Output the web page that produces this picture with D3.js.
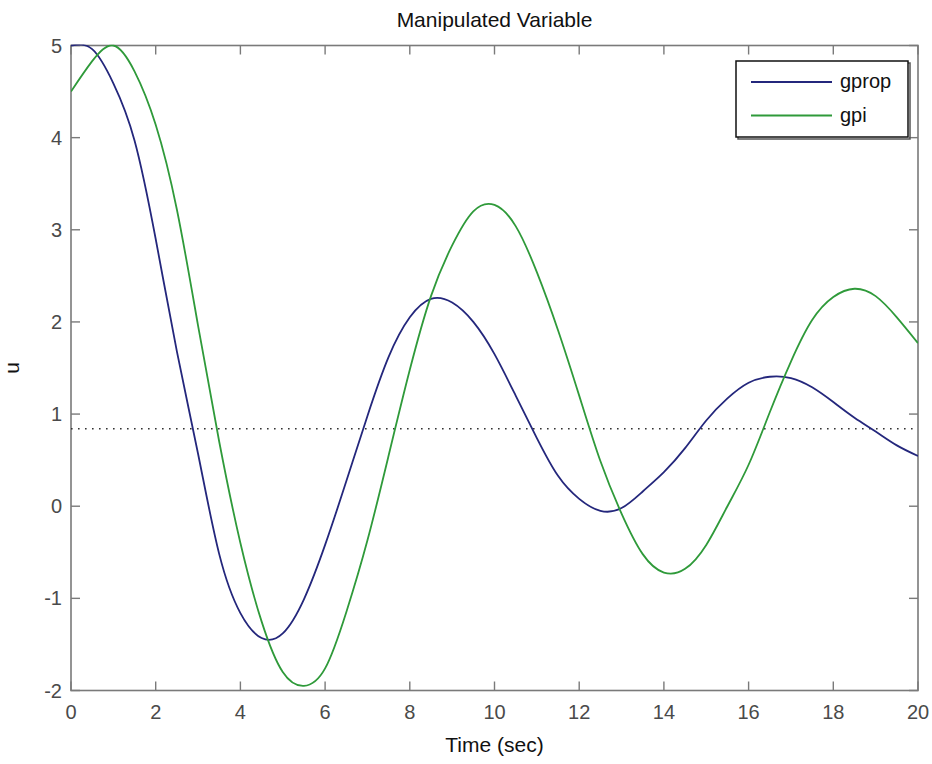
<!DOCTYPE html>
<html>
<head>
<meta charset="utf-8">
<script src="https://cdn.jsdelivr.net/npm/d3@7"></script>
<style>
  html, body { margin: 0; padding: 0; background: #ffffff; }
  svg { display: block; }
  text { font-family: "Liberation Sans", Arial, sans-serif; }
</style>
</head>
<body>
<svg id="chart" width="932" height="764"></svg>
<script>
// Time samples (sec), every 0.5 s
const time = [0, 0.5, 1, 1.5, 2, 2.5, 3, 3.5, 4, 4.5, 5, 5.5, 6, 6.5, 7, 7.5, 8, 8.5, 9, 9.5, 10,
              10.5, 11, 11.5, 12, 12.5, 13, 13.5, 14, 14.5, 15, 15.5, 16, 16.5, 17, 17.5, 18, 18.5, 19, 19.5, 20];

// Controller output u, proportional controller
const gprop = [5.00, 4.96, 4.59, 3.97, 2.90, 1.68, 0.57, -0.52, -1.16, -1.43, -1.38, -1.01, -0.42, 0.27, 0.98, 1.62, 2.05,
               2.25, 2.21, 2.00, 1.65, 1.20, 0.74, 0.33, 0.08, -0.05, -0.02, 0.16, 0.37, 0.63, 0.93, 1.17, 1.34, 1.405,
               1.39, 1.29, 1.13, 0.96, 0.81, 0.66, 0.545];

// Controller output u, PI controller
const gpi = [4.50, 4.83, 5.00, 4.72, 4.14, 3.22, 1.96, 0.70, -0.40, -1.25, -1.80, -1.95, -1.76, -1.15, -0.37, 0.55, 1.48,
             2.28, 2.83, 3.20, 3.27, 3.04, 2.54, 1.91, 1.20, 0.49, -0.08, -0.52, -0.72, -0.68, -0.42, 0.00, 0.45, 1.02,
             1.57, 2.02, 2.27, 2.36, 2.28, 2.05, 1.77];

// Steady-state reference level (dotted line)
const refLevel = 0.84;

const xTicks = [0, 2, 4, 6, 8, 10, 12, 14, 16, 18, 20];
const yTicks = [-2, -1, 0, 1, 2, 3, 4, 5];
const seriesNames = ["gprop", "gpi"];
const seriesColors = ["#24277c", "#2f9a3a"];

const svg = d3.select("#chart");
const plotLeft = 71, plotRight = 918, plotTop = 45.5, plotBottom = 690.5;

const x = d3.scaleLinear().domain([0, 20]).range([plotLeft, plotRight]);
const y = d3.scaleLinear().domain([-2, 5]).range([plotBottom, plotTop]);

const axisColor = "#7a7a7a";
const labelColor = "#4a4a4a";
const tickLen = 9;
const fs = 20;

svg.append("defs").append("clipPath").attr("id", "plot-clip")
  .append("rect")
  .attr("x", plotLeft).attr("y", plotTop - 1)
  .attr("width", plotRight - plotLeft).attr("height", plotBottom - plotTop + 2);

// Plot box
svg.append("rect")
  .attr("x", plotLeft).attr("y", plotTop)
  .attr("width", plotRight - plotLeft).attr("height", plotBottom - plotTop)
  .attr("fill", "#ffffff").attr("stroke", axisColor).attr("stroke-width", 1.6);

// Ticks on all four sides, pointing inwards
const g = svg.append("g");
xTicks.forEach(t => {
  g.append("line").attr("x1", x(t)).attr("x2", x(t))
    .attr("y1", plotBottom).attr("y2", plotBottom - tickLen)
    .attr("stroke", axisColor).attr("stroke-width", 1.4);
  g.append("line").attr("x1", x(t)).attr("x2", x(t))
    .attr("y1", plotTop).attr("y2", plotTop + tickLen)
    .attr("stroke", axisColor).attr("stroke-width", 1.4);
  g.append("text").attr("x", x(t)).attr("y", plotBottom + 28)
    .attr("text-anchor", "middle").attr("font-size", fs)
    .attr("fill", labelColor).text(t);
});
yTicks.forEach(v => {
  g.append("line").attr("x1", plotLeft).attr("x2", plotLeft + tickLen)
    .attr("y1", y(v)).attr("y2", y(v))
    .attr("stroke", axisColor).attr("stroke-width", 1.4);
  g.append("line").attr("x1", plotRight).attr("x2", plotRight - tickLen)
    .attr("y1", y(v)).attr("y2", y(v))
    .attr("stroke", axisColor).attr("stroke-width", 1.4);
  g.append("text").attr("x", plotLeft - 9).attr("y", y(v) + 7)
    .attr("text-anchor", "end").attr("font-size", fs)
    .attr("fill", labelColor).text(v);
});

// Reference level
svg.append("line")
  .attr("x1", x(0)).attr("x2", x(20))
  .attr("y1", y(refLevel)).attr("y2", y(refLevel))
  .attr("stroke", "#333333").attr("stroke-width", 1.6)
  .attr("stroke-dasharray", "1.6,5.4");

// Response curves
const line = d3.line()
  .x(d => x(d[0])).y(d => y(d[1]))
  .curve(d3.curveNatural);

const curves = svg.append("g").attr("clip-path", "url(#plot-clip)");
[gprop, gpi].forEach((vals, i) => {
  curves.append("path").datum(d3.zip(time, vals))
    .attr("d", line)
    .attr("fill", "none")
    .attr("stroke", seriesColors[i])
    .attr("stroke-width", 1.8);
});

// Legend
const lg = svg.append("g");
lg.append("rect").attr("x", 738).attr("y", 63).attr("width", 172).attr("height", 76)
  .attr("fill", "none").attr("stroke", "#555").attr("stroke-width", 1.5);
lg.append("rect").attr("x", 736).attr("y", 61).attr("width", 172).attr("height", 76)
  .attr("fill", "#ffffff").attr("stroke", "#111").attr("stroke-width", 1.5);
seriesNames.forEach((name, i) => {
  const ly = 82 + i * 33.5;
  lg.append("line").attr("x1", 751).attr("x2", 832)
    .attr("y1", ly).attr("y2", ly)
    .attr("stroke", seriesColors[i]).attr("stroke-width", 1.8);
  lg.append("text").attr("x", 840).attr("y", ly + 6)
    .attr("font-size", fs).attr("fill", "#111").text(name);
});

// Titles
svg.append("text").attr("x", (plotLeft + plotRight) / 2).attr("y", 27)
  .attr("text-anchor", "middle").attr("font-size", 21).attr("fill", "#111")
  .text("Manipulated Variable");
svg.append("text").attr("x", (plotLeft + plotRight) / 2).attr("y", 752)
  .attr("text-anchor", "middle").attr("font-size", 21).attr("fill", "#111")
  .text("Time (sec)");
svg.append("text")
  .attr("transform", `translate(19, ${(plotTop + plotBottom) / 2}) rotate(-90)`)
  .attr("text-anchor", "middle").attr("font-size", 21).attr("fill", "#111")
  .text("u");
</script>
</body>
</html>
